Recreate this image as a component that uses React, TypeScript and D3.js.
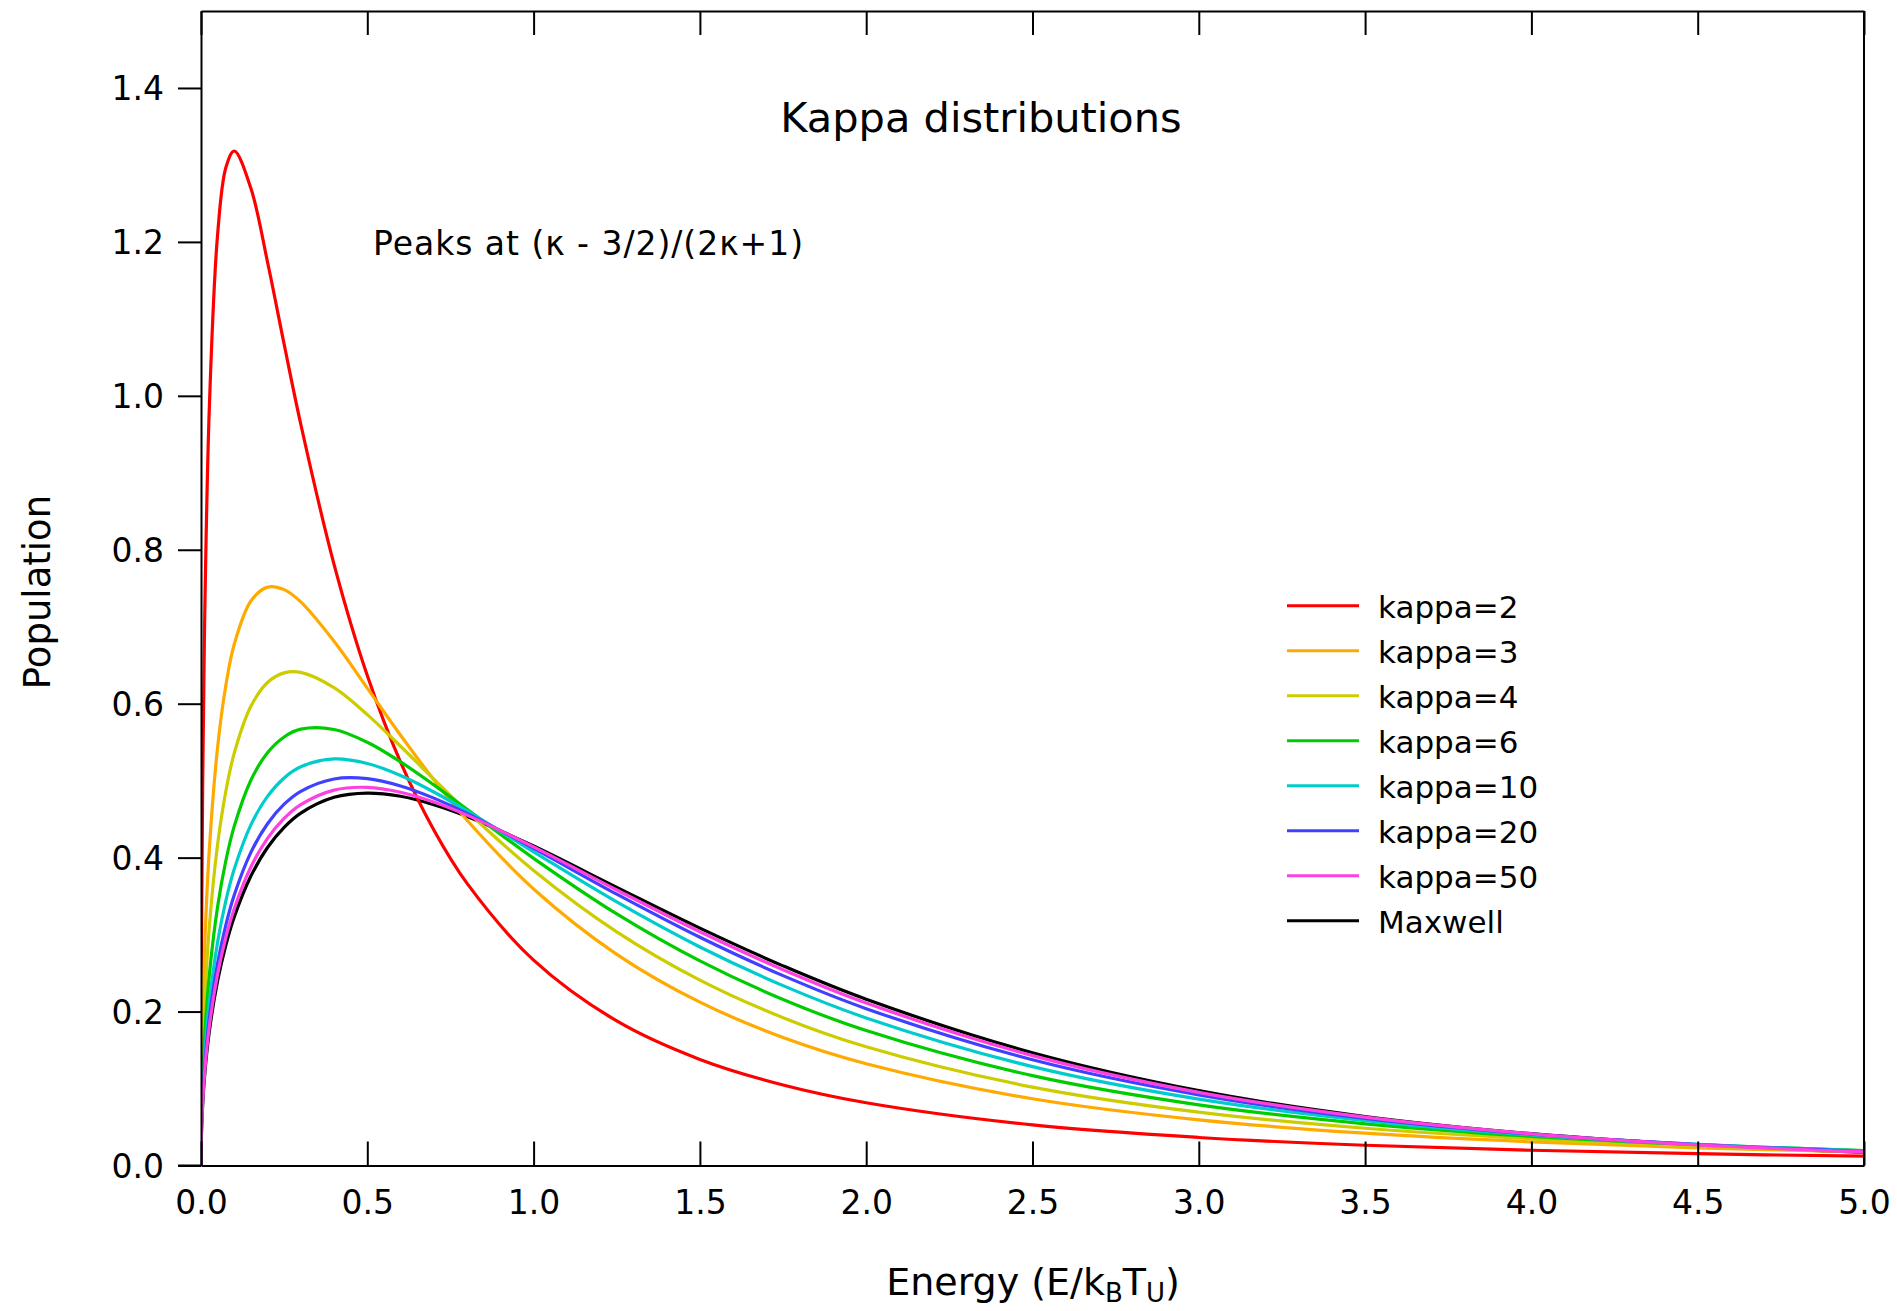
import React, { useEffect, useRef } from "react";
import * as d3 from "d3";

// energy grid (E / kB T) and populations
const energy = [0, 0.002, 0.01, 0.025, 0.05, 0.075, 0.1, 0.15, 0.2, 0.25, 0.3, 0.4, 0.5, 0.6, 0.7, 0.8, 1.0, 1.25, 1.5, 1.75, 2.0, 2.5, 3.0, 3.5, 4.0, 4.5, 5.0];

const kappa2 = [0, 0.3183, 0.6787, 0.9838, 1.21, 1.2969, 1.3181, 1.2697, 1.1739, 1.067, 0.9631, 0.7811, 0.6366, 0.524, 0.4359, 0.3665, 0.2668, 0.1878, 0.1378, 0.1046, 0.0815, 0.0527, 0.0364, 0.0263, 0.0198, 0.0153, 0.0121];
const kappa3 = [0, 0.1233, 0.27, 0.4103, 0.5437, 0.6246, 0.6772, 0.7334, 0.7515, 0.7482, 0.7323, 0.6811, 0.6203, 0.559, 0.5013, 0.4486, 0.3593, 0.2744, 0.2122, 0.1664, 0.1323, 0.0867, 0.0593, 0.042, 0.0307, 0.023, 0.0176];
const kappa4 = [0, 0.0918, 0.2021, 0.3101, 0.4175, 0.487, 0.5358, 0.5966, 0.6275, 0.64, 0.6407, 0.6208, 0.5858, 0.5447, 0.502, 0.4601, 0.3833, 0.3035, 0.2408, 0.1921, 0.1543, 0.1019, 0.0693, 0.0484, 0.0347, 0.0254, 0.019];
const kappa6 = [0, 0.0725, 0.1601, 0.2473, 0.3365, 0.3966, 0.4409, 0.5006, 0.5363, 0.5568, 0.5669, 0.5665, 0.5499, 0.5244, 0.4945, 0.4627, 0.3991, 0.3269, 0.2658, 0.2158, 0.1753, 0.1167, 0.0788, 0.0542, 0.0379, 0.027, 0.0195];
const kappa10 = [0, 0.0618, 0.1367, 0.212, 0.2904, 0.3444, 0.3851, 0.4425, 0.4796, 0.5035, 0.518, 0.5282, 0.5223, 0.5067, 0.4853, 0.4606, 0.4075, 0.3424, 0.2839, 0.2337, 0.1917, 0.1285, 0.0863, 0.0584, 0.0398, 0.0274, 0.0191];
const kappa20 = [0, 0.0555, 0.123, 0.1913, 0.2629, 0.313, 0.3514, 0.4068, 0.444, 0.4694, 0.4862, 0.5022, 0.5026, 0.4931, 0.4773, 0.4575, 0.412, 0.3525, 0.2965, 0.2467, 0.2038, 0.1374, 0.0918, 0.0612, 0.0408, 0.0273, 0.0183];
const kappa50 = [0, 0.0523, 0.116, 0.1805, 0.2487, 0.2967, 0.3337, 0.3879, 0.425, 0.4509, 0.4688, 0.4877, 0.4913, 0.485, 0.4723, 0.4552, 0.414, 0.358, 0.3037, 0.2544, 0.2111, 0.1428, 0.0951, 0.0628, 0.0412, 0.0269, 0.0176];
const maxwell = [0, 0.0504, 0.1117, 0.174, 0.24, 0.2867, 0.3229, 0.3761, 0.4132, 0.4394, 0.4579, 0.4784, 0.4839, 0.4797, 0.4688, 0.4535, 0.4151, 0.3614, 0.3084, 0.2594, 0.216, 0.1465, 0.0973, 0.0637, 0.0413, 0.0266, 0.017];

const seriesNames = ["kappa=2", "kappa=3", "kappa=4", "kappa=6", "kappa=10", "kappa=20", "kappa=50", "Maxwell"];
const seriesColors = ["#ff0000", "#ffaa00", "#cccc00", "#00cc00", "#00cccc", "#4040ff", "#ff40e0", "#000000"];
const seriesValues = [kappa2, kappa3, kappa4, kappa6, kappa10, kappa20, kappa50, maxwell];
// maxwell goes underneath, then kappa=2 .. kappa=50
const drawOrder = [7, 0, 1, 2, 3, 4, 5, 6];

const xTicks = [0, 0.5, 1, 1.5, 2, 2.5, 3, 3.5, 4, 4.5, 5];
const yTicks = [0, 0.2, 0.4, 0.6, 0.8, 1.0, 1.2, 1.4];

const FONT = "'DejaVu Sans', sans-serif";

const App = () => {
  const ref = useRef<SVGSVGElement>(null);

  useEffect(() => {
    const svg = d3.select(ref.current);
    svg.selectAll("*").remove();

    const left = 201;
    const right = 1864;
    const top = 11;
    const bottom = 1165.5;

    const x = d3.scaleLinear().domain([0, 5]).range([left, right]);
    const y = d3.scaleLinear().domain([0, 1.5]).range([bottom, top]);

    svg.append("rect").attr("width", 1897).attr("height", 1311).attr("fill", "#fff");

    svg.append("clipPath").attr("id", "plot-clip")
      .append("rect")
      .attr("x", left).attr("y", top)
      .attr("width", right - left).attr("height", bottom - top);

    const line = d3.line<number>()
      .x((_, i) => x(energy[i]))
      .y(d => y(d))
      .curve(d3.curveCatmullRom.alpha(0.5));

    const curves = svg.append("g").attr("clip-path", "url(#plot-clip)");
    drawOrder.forEach(k => {
      curves.append("path")
        .datum(seriesValues[k])
        .attr("fill", "none")
        .attr("stroke", seriesColors[k])
        .attr("stroke-width", 3.2)
        .attr("stroke-linejoin", "round")
        .attr("d", line);
    });

    // left axis, ticks outward
    const yAxis = svg.append("g")
      .attr("transform", `translate(${left},0)`)
      .call(d3.axisLeft(y).tickValues(yTicks).tickFormat(d3.format(".1f")).tickSize(23).tickSizeOuter(0).tickPadding(14));

    // bottom axis, ticks inward
    const xAxis = svg.append("g")
      .attr("transform", `translate(0,${bottom})`)
      .call(d3.axisBottom(x).tickValues(xTicks).tickFormat(d3.format(".1f")).tickSize(-24).tickSizeOuter(0).tickPadding(25));

    // top mirror ticks, inward
    svg.append("g")
      .attr("transform", `translate(0,${top})`)
      .call(d3.axisTop(x).tickValues(xTicks).tickFormat(() => "").tickSize(-24).tickSizeOuter(0));

    svg.append("line")
      .attr("x1", right).attr("x2", right)
      .attr("y1", top).attr("y2", bottom)
      .attr("stroke", "#000").attr("stroke-width", 2);

    svg.selectAll(".domain").attr("stroke-width", 2);
    svg.selectAll(".tick line").attr("stroke-width", 2);
    svg.selectAll(".tick text")
      .attr("font-family", FONT)
      .attr("font-size", 33)
      .attr("fill", "#000");
    yAxis.selectAll(".tick text").attr("dy", "0.35em");
    xAxis.selectAll(".tick text").attr("dy", "0.71em");

    // bottom line continues into the 0.0 tick at left
    svg.append("line")
      .attr("x1", left - 23).attr("x2", left)
      .attr("y1", bottom).attr("y2", bottom)
      .attr("stroke", "#000").attr("stroke-width", 2);

    svg.append("text")
      .attr("x", 981).attr("y", 132)
      .attr("text-anchor", "middle")
      .attr("font-family", FONT).attr("font-size", 41.5)
      .text("Kappa distributions");

    svg.append("text")
      .attr("x", 373).attr("y", 255)
      .attr("font-family", FONT).attr("font-size", 33)
      .attr("textLength", 430).attr("lengthAdjust", "spacing")
      .text("Peaks at (κ - 3/2)/(2κ+1)");

    // legend
    const legend = svg.append("g");
    seriesNames.forEach((name, i) => {
      const ly = 605.7 + i * 45;
      legend.append("line")
        .attr("x1", 1287).attr("x2", 1359)
        .attr("y1", ly).attr("y2", ly)
        .attr("stroke", seriesColors[i]).attr("stroke-width", 3);
      legend.append("text")
        .attr("x", 1378).attr("y", ly + 12)
        .attr("font-family", FONT).attr("font-size", 31)
        .text(name);
    });

    // axis labels
    const xLabel = svg.append("text")
      .attr("x", 1033).attr("y", 1295)
      .attr("text-anchor", "middle")
      .attr("font-family", FONT).attr("font-size", 38);
    xLabel.append("tspan").text("Energy (E/k");
    xLabel.append("tspan").attr("dy", 7).attr("font-size", 26).text("B");
    xLabel.append("tspan").attr("dy", -7).text("T");
    xLabel.append("tspan").attr("dy", 7).attr("font-size", 26).text("U");
    xLabel.append("tspan").attr("dy", -7).text(")");

    svg.append("text")
      .attr("transform", "translate(50,592) rotate(-90)")
      .attr("text-anchor", "middle")
      .attr("font-family", FONT).attr("font-size", 37)
      .text("Population");
  }, []);

  return (
    <svg
      ref={ref}
      width={1897}
      height={1311}
      style={{ position: "absolute", left: 0, top: 0 }}
    ></svg>
  );
};

export default App;
